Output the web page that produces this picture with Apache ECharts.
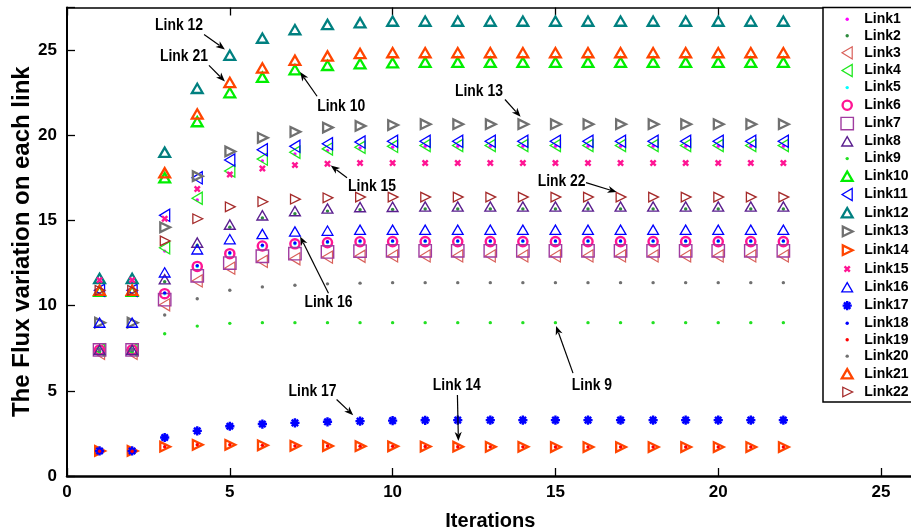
<!DOCTYPE html>
<html><head><meta charset="utf-8">
<script src="https://cdn.jsdelivr.net/npm/echarts@6/dist/echarts.min.js"></script>
<style>html,body{margin:0;padding:0;background:#fff}#c{width:911px;height:532px}</style>
</head><body><div id="c"></div>
<script>
// ---------------- data ----------------
const iterations = [1,2,3,4,5,6,7,8,9,10,11,12,13,14,15,16,17,18,19,20,21,22];
const xTickLabels = ['0','5','10','15','20','25'];
const yTickLabels = ['0','5','10','15','20','25'];
const yTitle = 'The Flux variation on each link';
const linkNames = ['Link1','Link2','Link3','Link4','Link5','Link6','Link7','Link8','Link9','Link10','Link11','Link12','Link13','Link14','Link15','Link16','Link17','Link18','Link19','Link20','Link21','Link22'];

const link1  = [7.4,7.4,13.2,16.2,17.75,18.5,18.9,19.1,19.25,19.3,19.35,19.35,19.35,19.35,19.35,19.35,19.35,19.35,19.35,19.35,19.35,19.35];
const link2  = [7.3,7.3,11.4,13.55,14.6,15.15,15.4,15.55,15.63,15.65,15.67,15.67,15.67,15.67,15.67,15.67,15.67,15.67,15.67,15.67,15.67,15.67];
const link3  = [7.2,7.2,10.05,11.45,12.2,12.6,12.75,12.85,12.9,12.92,12.92,12.92,12.92,12.92,12.92,12.92,12.92,12.92,12.92,12.92,12.92,12.92];
const link4  = [7.4,7.4,13.4,16.3,17.9,18.6,19.0,19.2,19.3,19.35,19.4,19.4,19.4,19.4,19.4,19.4,19.4,19.4,19.4,19.4,19.4,19.4];
const link5  = [7.4,7.4,10.7,12.3,13.05,13.5,13.63,13.7,13.75,13.76,13.76,13.76,13.76,13.76,13.76,13.76,13.76,13.76,13.76,13.76,13.76,13.76];
const link6  = [7.4,7.4,10.7,12.3,13.05,13.5,13.63,13.7,13.75,13.76,13.76,13.76,13.76,13.76,13.76,13.76,13.76,13.76,13.76,13.76,13.76,13.76];
const link7  = [7.4,7.4,10.35,11.75,12.5,12.9,13.05,13.15,13.2,13.22,13.22,13.22,13.22,13.22,13.22,13.22,13.22,13.22,13.22,13.22,13.22,13.22];
const link8  = [7.4,7.4,11.55,13.7,14.75,15.3,15.55,15.7,15.78,15.8,15.82,15.82,15.82,15.82,15.82,15.82,15.82,15.82,15.82,15.82,15.82,15.82];
const link9  = [7.3,7.3,8.35,8.8,8.96,9.0,9.0,9.0,9.0,9.0,9.0,9.0,9.0,9.0,9.0,9.0,9.0,9.0,9.0,9.0,9.0,9.0];
const link10 = [10.85,10.85,17.5,20.8,22.5,23.4,23.85,24.1,24.2,24.25,24.28,24.28,24.28,24.28,24.28,24.28,24.28,24.28,24.28,24.28,24.28,24.28];
const link11 = [10.9,10.9,15.3,17.5,18.55,19.15,19.35,19.5,19.6,19.65,19.65,19.65,19.65,19.65,19.65,19.65,19.65,19.65,19.65,19.65,19.65,19.65];
const link12 = [11.6,11.6,19.0,22.75,24.7,25.7,26.2,26.5,26.6,26.7,26.7,26.7,26.7,26.7,26.7,26.7,26.7,26.7,26.7,26.7,26.7,26.7];
const link13 = [9.0,9.0,14.6,17.6,19.05,19.85,20.2,20.45,20.55,20.6,20.65,20.65,20.65,20.65,20.65,20.65,20.65,20.65,20.65,20.65,20.65,20.65];
const link14 = [1.47,1.47,1.72,1.83,1.83,1.8,1.77,1.76,1.75,1.74,1.73,1.72,1.71,1.71,1.7,1.7,1.7,1.7,1.7,1.7,1.7,1.7];
const link15 = [11.5,11.5,15.1,16.85,17.7,18.05,18.25,18.33,18.37,18.37,18.37,18.37,18.37,18.37,18.37,18.37,18.37,18.37,18.37,18.37,18.37,18.37];
const link16 = [9.0,9.0,11.95,13.3,13.9,14.2,14.35,14.4,14.45,14.45,14.45,14.45,14.45,14.45,14.45,14.45,14.45,14.45,14.45,14.45,14.45,14.45];
const link17 = [1.47,1.47,2.26,2.65,2.92,3.05,3.12,3.18,3.22,3.25,3.27,3.28,3.28,3.28,3.28,3.28,3.28,3.28,3.28,3.28,3.28,3.28];
const link18 = [7.4,7.4,10.75,12.35,13.1,13.55,13.68,13.75,13.8,13.8,13.8,13.8,13.8,13.8,13.8,13.8,13.8,13.8,13.8,13.8,13.8,13.8];
const link19 = [1.45,1.45,1.72,1.83,1.83,1.8,1.77,1.76,1.75,1.74,1.73,1.72,1.71,1.71,1.7,1.7,1.7,1.7,1.7,1.7,1.7,1.7];
const link20 = [7.4,7.4,9.45,10.4,10.9,11.1,11.2,11.28,11.32,11.35,11.35,11.35,11.35,11.35,11.35,11.35,11.35,11.35,11.35,11.35,11.35,11.35];
const link21 = [10.9,10.9,17.8,21.25,23.1,23.95,24.4,24.65,24.8,24.85,24.85,24.85,24.85,24.85,24.85,24.85,24.85,24.85,24.85,24.85,24.85,24.85];
const link22 = [10.9,10.9,13.8,15.1,15.8,16.1,16.25,16.33,16.37,16.37,16.37,16.37,16.37,16.37,16.37,16.37,16.37,16.37,16.37,16.37,16.37,16.37];

const annLabels = ['Link 12','Link 21','Link 10','Link 15','Link 13','Link 22','Link 16','Link 17','Link 14','Link 9'];
const annTextAt = [[3.44,26.41],[3.59,24.61],[8.42,21.71],[9.37,16.96],[12.65,22.55],[15.19,17.29],[8.03,10.18],[7.54,4.94],[11.97,5.28],[16.12,5.28]];
const annTail   = [[4.21,25.92],[4.36,24.10],[7.68,22.29],[8.60,17.51],[13.45,22.10],[15.94,17.22],[8.03,10.73],[8.28,4.49],[11.99,4.75],[15.54,6.04]];
const annTip    = [[4.85,25.04],[4.85,23.16],[7.16,23.71],[8.10,18.22],[13.93,21.08],[16.88,16.67],[7.16,14.06],[8.79,3.57],[12.02,2.06],[15.02,8.81]];

// ---------------- styles ----------------
const A = 'M0,0L0,0M14,14L14,14';
const SYM = {
  dot:   'path://' + A + 'M8.7,7A1.7,1.7,0,1,1,5.3,7A1.7,1.7,0,1,1,8.7,7Z',
  up:    'path://' + A + 'M1.6,11.6L12.4,11.6L7,2.3Z',
  left:  'path://' + A + 'M1.8,7L12,0.9L12,13.1Z',
  right: 'path://' + A + 'M2.6,2.2L2.6,11.8L12.4,7Z',
  square:'path://' + A + 'M0.8,0.8L13.2,0.8L13.2,13.2L0.8,13.2Z',
  circle:'path://' + A + 'M11.6,7A4.6,4.6,0,1,1,2.4,7A4.6,4.6,0,1,1,11.6,7Z',
  cross: 'path://' + A + 'M4.4,4.4L9.6,9.6M9.6,4.4L4.4,9.6',
  star:  'path://' + A + 'M7,2.4L7,11.6M2.4,7L11.6,7M3.8,3.8L10.2,10.2M10.2,3.8L3.8,10.2'
};
// [shape, color, filled, strokeWidth]
const styles = [
  ['dot','#ff00ff',true,0],
  ['dot','#2e8b3e',true,0],
  ['left','#d9605a',false,1.2],
  ['left','#1ee81e',false,1.3],
  ['dot','#00ffff',true,0],
  ['circle','#ff1493',false,2.4],
  ['square','#a03ca0',false,1.4],
  ['up','#5a1f8f',false,1.4],
  ['dot','#22e022',true,0],
  ['up','#00ee00',false,2.3],
  ['left','#0000ff',false,1.3],
  ['up','#008080',false,2.3],
  ['right','#707070',false,2.3],
  ['right','#ff4500',false,2.3],
  ['cross','#ff1493',false,2.4],
  ['up','#0000ff',false,1.3],
  ['star','#0000ff',false,2.4],
  ['dot','#0000ff',true,0],
  ['dot','#ff0000',true,0],
  ['dot','#707070',true,0],
  ['up','#ff4500',false,2.3],
  ['right','#a52a2a',false,1.3]
];
const allLinks = [link1,link2,link3,link4,link5,link6,link7,link8,link9,link10,link11,link12,link13,link14,link15,link16,link17,link18,link19,link20,link21,link22];

const FONT = "'Liberation Sans', Arial, sans-serif";

const series = allLinks.map((vals, i) => {
  const [shape, color, filled, sw] = styles[i];
  return {
    name: linkNames[i],
    type: 'scatter',
    xAxisIndex: 0, yAxisIndex: 0,
    data: iterations.map((x, k) => [x, vals[k]]),
    symbol: SYM[shape],
    symbolSize: 14,
    itemStyle: {
      opacity: 1,
      color: filled ? color : 'rgba(0,0,0,0)',
      borderColor: color,
      borderWidth: sw
    },
    emphasis: { disabled: true },
    silent: true
  };
});

const chart = echarts.init(document.getElementById('c'), null, { renderer: 'canvas' });

const labelFmt = (list) => (v) => { const s = String(v); return list.indexOf(s) >= 0 ? s : ''; };

chart.setOption({
  animation: false,
  backgroundColor: '#fff',
  grid: { left: 67, top: 7.5, bottom: 56, right: -2.6, containLabel: false, outerBoundsMode: 'none' },
  xAxis: [{
    type: 'value', min: 0, max: 26, interval: 5, position: 'bottom',
    name: 'Iterations', nameLocation: 'middle', nameGap: 35,
    nameTextStyle: { fontFamily: FONT, fontWeight: 'bold', fontSize: 20, color: '#000' },
    axisLine: { show: true, onZero: false, lineStyle: { color: '#000', width: 2.5 } },
    axisTick: { show: true, inside: true, length: 8, lineStyle: { color: '#000', width: 1.3 } },
    axisLabel: { show: true, margin: 8, fontFamily: FONT, fontWeight: 'bold', fontSize: 17, color: '#000', formatter: labelFmt(xTickLabels) },
    splitLine: { show: false }
  }, {
    type: 'value', min: 0, max: 26, interval: 5, position: 'top',
    axisLine: { show: true, onZero: false, lineStyle: { color: '#000', width: 1.5 } },
    axisTick: { show: true, inside: true, length: 8, lineStyle: { color: '#000', width: 1.3 } },
    axisLabel: { show: false }, splitLine: { show: false }
  }],
  yAxis: [{
    type: 'value', min: 0, max: 27.5, interval: 5, position: 'left',
    axisLine: { show: true, onZero: false, lineStyle: { color: '#000', width: 2 } },
    axisTick: { show: true, inside: true, length: 8, lineStyle: { color: '#000', width: 1.3 } },
    axisLabel: { show: true, margin: 10, fontFamily: FONT, fontWeight: 'bold', fontSize: 17, color: '#000', formatter: labelFmt(yTickLabels) },
    splitLine: { show: false }
  }],
  legend: {
    orient: 'vertical', left: 839, top: 12.3, padding: 0,
    itemWidth: 14, itemHeight: 14, itemGap: 2.45,
    selectedMode: false, z: 10,
    data: linkNames,
    itemStyle: { borderWidth: 'inherit' },
    textStyle: { fontFamily: FONT, fontWeight: 'bold', fontSize: 14, color: '#000', lineHeight: 14, padding: [0, 0, 0, 5] }
  },
  series: series
});

// annotations + legend box + y title
const px = (p) => chart.convertToPixel({ gridIndex: 0 }, p);
const gfx = [{
  type: 'rect', z: 5, silent: true,
  shape: { x: 823, y: 7.5, width: 120, height: 394.5 },
  style: { fill: '#fff', stroke: '#000', lineWidth: 1.5 }
}, {
  type: 'text', z: 6, silent: true, x: 22, y: 241.7, rotation: Math.PI / 2,
  style: { text: yTitle, fill: '#000', font: 'bold 24px ' + FONT, align: 'center', verticalAlign: 'middle' }
}];
annLabels.forEach((t, i) => {
  const c = px(annTextAt[i]), a = px(annTail[i]), b = px(annTip[i]);
  const dx = b[0] - a[0], dy = b[1] - a[1], len = Math.hypot(dx, dy);
  const ux = dx / len, uy = dy / len, L = 9, W = 3.6;
  const bx = b[0] - ux * L, by = b[1] - uy * L;
  gfx.push({ type: 'text', z: 6, silent: true, x: c[0], y: c[1], scaleX: 0.87, scaleY: 1,
    style: { text: t, fill: '#000', font: 'bold 16px ' + FONT, align: 'center', verticalAlign: 'middle' } });
  gfx.push({ type: 'line', z: 6, silent: true,
    shape: { x1: a[0], y1: a[1], x2: bx + ux * 2, y2: by + uy * 2 },
    style: { stroke: '#000', lineWidth: 1.2 } });
  gfx.push({ type: 'polygon', z: 6, silent: true,
    shape: { points: [[b[0], b[1]], [bx - uy * W, by + ux * W], [bx + ux * 2.5, by + uy * 2.5], [bx + uy * W, by - ux * W]] },
    style: { fill: '#000' } });
});
chart.setOption({ graphic: gfx });
</script>
</body></html>
